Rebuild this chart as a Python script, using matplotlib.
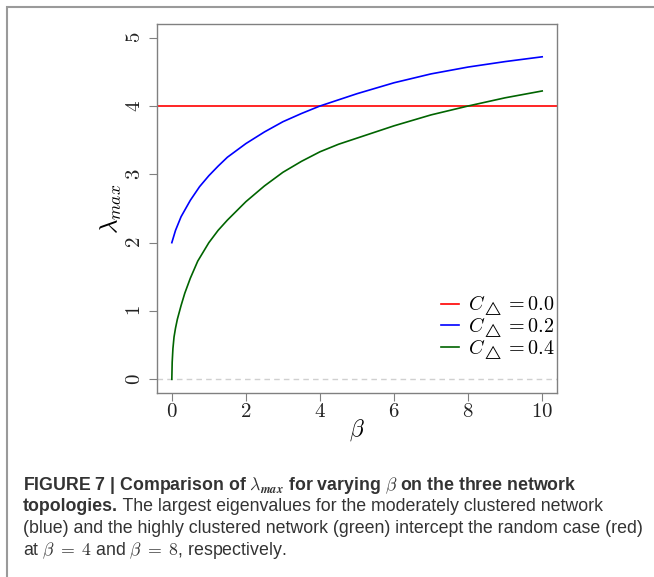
import matplotlib
matplotlib.use("Agg")
import matplotlib.pyplot as plt
from matplotlib.patches import Rectangle

# valores
beta_blue = [0, 0.05, 0.1, 0.25, 0.5, 0.75, 1, 1.25, 1.5, 2, 2.5, 3, 3.5, 4, 4.5, 5, 6,
             7, 8, 9, 10]
lam_blue = [2.0, 2.09, 2.18, 2.38, 2.62, 2.82, 2.98, 3.12, 3.25, 3.45, 3.62, 3.77, 3.89,
            4.0, 4.09, 4.18, 4.34, 4.47, 4.57, 4.65, 4.72]

beta_green = [0, 0.01, 0.03, 0.06, 0.1, 0.15, 0.25, 0.35, 0.5, 0.7, 1, 1.25, 1.5, 2,
              2.5, 3, 3.5, 4, 4.5, 5, 6, 7, 8, 9, 10]
lam_green = [0.0, 0.25, 0.45, 0.62, 0.75, 0.88, 1.08, 1.26, 1.48, 1.73, 2.0, 2.18,
             2.33, 2.6, 2.83, 3.03, 3.19, 3.33, 3.44, 3.53, 3.71, 3.87, 4.0, 4.12, 4.22]

lam_red = 4.0

legend_labels = [r"$C_{\triangle} = 0.0$", r"$C_{\triangle} = 0.2$", r"$C_{\triangle} = 0.4$"]
xticks = [0, 2, 4, 6, 8, 10]
yticks = [0, 1, 2, 3, 4, 5]

plt.rcParams["mathtext.fontset"] = "cm"

fig = plt.figure(figsize=(6.54, 5.77), dpi=100)
ax = fig.add_axes([157 / 654, 1 - 393 / 577, 400 / 654, 369 / 577])

ax.axhline(0, color="#d0d0d0", lw=1.0, ls=(0, (4, 3)))
ax.axhline(lam_red, color="red", lw=1.2, label=legend_labels[0])
ax.plot(beta_blue, lam_blue, color="blue", lw=1.2, label=legend_labels[1])
ax.plot(beta_green, lam_green, color="#006400", lw=1.2, label=legend_labels[2])

ax.set_xlim(-0.4, 10.4)
ax.set_ylim(-0.2, 5.2)
ax.set_xticks(xticks, labels=[f"${t}$" for t in xticks])
ax.set_yticks(yticks, labels=[f"${t}$" for t in yticks])
ax.tick_params(axis="both", direction="out", length=6, width=0.8, color="#808080",
               labelsize=15, labelcolor="#222222")
ax.tick_params(axis="x", pad=0)
ax.tick_params(axis="y", pad=3)
for lab in ax.get_yticklabels():
    lab.set_rotation(90)
    lab.set_va("center")
for side in ["top", "right", "bottom", "left"]:
    ax.spines[side].set_color("#808080")
    ax.spines[side].set_linewidth(1.0)

ax.set_xlabel(r"$\beta$", fontsize=17, labelpad=-3)
ax.set_ylabel(r"$\lambda_{max}$", fontsize=18, labelpad=0)

ax.legend(loc="lower right", bbox_to_anchor=(0.995, 0.085), frameon=False,
          fontsize=14.5, handlelength=0.9, handletextpad=0.45, labelspacing=-0.12,
          borderpad=0, borderaxespad=0)

# moldura cinza
fig.patches.append(Rectangle((7 / 654, -0.1), 1.2, 1.1 - 7 / 577, transform=fig.transFigure,
                             fill=False, edgecolor="#9a9a9a", lw=1.5))

# legenda da figura
fs = 12.8
cap_kw = dict(fontsize=fs, family="Liberation Sans", color="#333333", va="baseline")
x0 = 23 / 654
fig.text(x0, 1 - 490 / 577,
         r"FIGURE 7 | Comparison of $\lambda_{\mathbfit{max}}$ for varying $\beta$ on the three network",
         fontweight="bold", **cap_kw)
t2 = fig.text(x0, 1 - 511 / 577, "topologies.", fontweight="bold", **cap_kw)
plt.annotate(" The largest eigenvalues for the moderately clustered network",
             xy=(1, 0), xycoords=t2, va="bottom", ha="left",
             fontsize=fs, family="Liberation Sans", color="#333333",
             annotation_clip=False)
fig.text(x0, 1 - 533 / 577,
         "(blue) and the highly clustered network (green) intercept the random case (red)",
         **cap_kw)
fig.text(x0, 1 - 555 / 577, r"at $\beta\;=\;4$ and $\beta\;=\;8$, respectively.", **cap_kw)

fig.savefig("out.png", dpi=100)
